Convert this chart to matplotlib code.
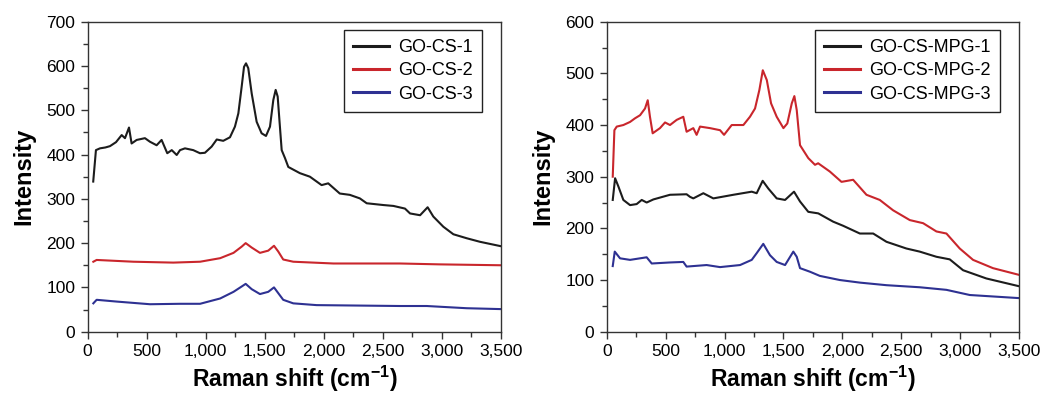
import numpy as np
import matplotlib.pyplot as plt
from matplotlib.ticker import MultipleLocator

plt.rcParams['font.family'] = ['Liberation Sans', 'DejaVu Sans']

# ---- data: (Raman shift, intensity) ----
cs1 = [(47, 339), (70, 410), (104, 414), (150, 416), (189, 419), (240, 428), (288, 444),
       (316, 437), (350, 461), (372, 425), (415, 433), (485, 437), (527, 429), (584, 421),
       (626, 433), (674, 403), (712, 410), (754, 399), (782, 410), (824, 414), (894, 410),
       (951, 403), (993, 404), (1050, 418), (1093, 434), (1148, 431), (1205, 439), (1247, 463),
       (1276, 493), (1304, 553), (1324, 598), (1341, 606), (1360, 595), (1389, 538),
       (1431, 474), (1473, 448), (1510, 442), (1544, 463), (1572, 523), (1592, 546),
       (1609, 531), (1628, 463), (1643, 410), (1671, 392), (1699, 372), (1797, 358),
       (1882, 350), (1981, 331), (2037, 335), (2135, 312), (2220, 309), (2305, 301),
       (2363, 290), (2504, 286), (2589, 284), (2687, 278), (2730, 267), (2815, 263),
       (2879, 281), (2927, 260), (3012, 237), (3097, 220), (3210, 211), (3322, 203), (3500, 193)]

cs2 = [(48, 158), (76, 162), (387, 158), (725, 156), (952, 158), (1122, 166), (1235, 178),
       (1304, 192), (1338, 200), (1389, 190), (1459, 178), (1529, 183), (1578, 194),
       (1614, 181), (1656, 163), (1741, 158), (2081, 154), (2645, 154), (2984, 152), (3500, 150)]

cs3 = [(48, 64), (76, 72), (246, 68), (528, 62), (782, 63), (952, 63), (1122, 75), (1235, 90),
       (1304, 102), (1338, 108), (1389, 96), (1459, 85), (1529, 90), (1578, 100), (1614, 87),
       (1656, 72), (1741, 64), (1939, 60), (2645, 58), (2871, 58), (3210, 53), (3500, 51)]

mpg1 = [(51, 255), (71, 297), (99, 281), (141, 255), (198, 245), (254, 247), (297, 255),
        (339, 250), (396, 256), (537, 265), (678, 266), (707, 261), (735, 258), (820, 268),
        (905, 258), (1075, 265), (1231, 271), (1273, 268), (1324, 292), (1372, 277),
        (1443, 258), (1514, 255), (1590, 271), (1641, 252), (1711, 232), (1796, 229),
        (1922, 213), (2007, 205), (2149, 190), (2262, 190), (2375, 174), (2544, 161),
        (2657, 155), (2799, 145), (2912, 140), (3025, 119), (3223, 103), (3500, 88)]

mpg2 = [(51, 300), (65, 390), (85, 397), (141, 400), (198, 406), (240, 413), (283, 419),
        (325, 432), (348, 448), (367, 416), (390, 384), (452, 394), (495, 405), (537, 400),
        (594, 410), (650, 416), (678, 387), (735, 394), (763, 381), (792, 397), (877, 394),
        (962, 390), (996, 381), (1061, 400), (1160, 400), (1216, 416), (1259, 432),
        (1296, 468), (1325, 506), (1359, 487), (1395, 442), (1443, 416), (1500, 394),
        (1533, 403), (1571, 442), (1593, 456), (1613, 429), (1641, 361), (1711, 336),
        (1768, 323), (1795, 326), (1894, 310), (1993, 290), (2092, 294), (2205, 265),
        (2318, 255), (2431, 235), (2573, 216), (2686, 210), (2799, 194), (2884, 190),
        (2997, 161), (3110, 139), (3279, 123), (3500, 110)]

mpg3 = [(51, 127), (68, 155), (113, 142), (198, 139), (339, 144), (382, 132), (537, 134),
        (650, 135), (678, 126), (848, 129), (962, 125), (1132, 129), (1231, 139), (1273, 152),
        (1329, 170), (1386, 148), (1443, 135), (1514, 129), (1584, 155), (1613, 145),
        (1641, 123), (1726, 116), (1809, 108), (1979, 100), (2149, 95), (2375, 90),
        (2657, 86), (2884, 81), (3082, 71), (3500, 65)]

x_ticks = [0, 500, 1000, 1500, 2000, 2500, 3000, 3500]
x_tick_labels = ['0', '500', '1,000', '1,500', '2,000', '2,500', '3,000', '3,500']

left_labels = ['GO-CS-1', 'GO-CS-2', 'GO-CS-3']
right_labels = ['GO-CS-MPG-1', 'GO-CS-MPG-2', 'GO-CS-MPG-3']
colors = ['#1c1c1c', '#c9262c', '#2e3192']

fig = plt.figure(figsize=(10.4, 3.96), dpi=100)
ax1 = fig.add_axes([0.0843, 0.1624, 0.3974, 0.7828])
ax2 = fig.add_axes([0.5834, 0.1624, 0.3964, 0.7828])


def style(ax, ymax):
    ax.set_xlim(0, 3500)
    ax.set_ylim(0, ymax)
    ax.set_xticks(x_ticks)
    ax.set_xticklabels(x_tick_labels)
    ax.xaxis.set_minor_locator(MultipleLocator(250))
    ax.yaxis.set_minor_locator(MultipleLocator(50))
    ax.yaxis.set_major_locator(MultipleLocator(100))
    ax.tick_params(which='major', direction='out', length=5, width=1, labelsize=12.5,
                   color='#333333', pad=4)
    ax.tick_params(which='minor', direction='out', length=3.5, width=1, color='#333333')
    for s in ax.spines.values():
        s.set_color('#333333')
        s.set_linewidth(1)
    ax.set_xlabel('Raman shift (cm$^{\\mathregular{-1}}$)', fontsize=16.5, fontweight='bold', labelpad=3)
    ax.set_ylabel('Intensity', fontsize=17, fontweight='bold', labelpad=8)


for pts, lab, c in zip([cs1, cs2, cs3], left_labels, colors):
    xs, ys = np.array(pts).T
    ax1.plot(xs, ys, color=c, lw=1.5, label=lab)
for pts, lab, c in zip([mpg1, mpg2, mpg3], right_labels, colors):
    xs, ys = np.array(pts).T
    ax2.plot(xs, ys, color=c, lw=1.5, label=lab)

style(ax1, 700)
style(ax2, 600)

for ax in (ax1, ax2):
    leg = ax.legend(loc='upper right', bbox_to_anchor=(0.954, 0.973), borderaxespad=0,
                    fontsize=13, fancybox=False, framealpha=1, edgecolor='#222222',
                    handlelength=2.0, labelspacing=0.35, borderpad=0.5, handletextpad=0.5)
    leg.get_frame().set_linewidth(1)
    for h in leg.get_lines():
        h.set_linewidth(2.2)

fig.savefig('out.png', dpi=100)
